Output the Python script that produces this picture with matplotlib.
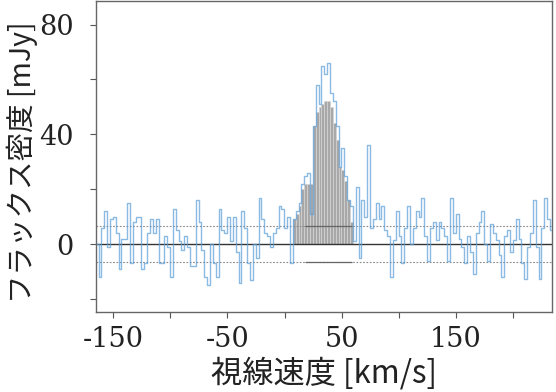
import numpy as np
import matplotlib
matplotlib.use("Agg")
import matplotlib.pyplot as plt

# ---- data ----
v_start = -164.0      # km/s, first channel centre
dv = 2.5              # km/s, channel width
left_flux = [0, -12, 6, 12, -1, 9, 10, 4, -9, 2, 2, 15, -7, 8, 10, 10, -9, -7, 4, 9,
             4, 9, -7, -7, 3, -1, -12, 13, 5, 1, -2, 3, -1, -8, -8, 16, 8, -2, -12, -15,
             0, -7, -12, 13, 5, 4, 10, 1, 10, -3, -14, 12, 6, -7, -13, 0, -5, 17, 9, 4,
             3, -1, 4, 6, 14, 13, 6, 10]
peak_flux = [-7, 9, 12, 15, 22, 25, 26, 11, 43, 58, 51, 65, 62, 66, 55, 52, 43, 28, 35,
             25, 16, 14]
right_flux = [1, 21, -5, 16, 10, 36, 6, 9, 15, 9, 14, 5, 3, -12, 1.5, 12, 3, -7, 6, 14,
              0, 6, 12, 10, 17, 3, -6, 6, 8, 1.5, 8, 6, 3, -6, 17, 4, 11, 2, -1, -7,
              3, -3, -11, 4, 8, 12, 0, -6, 7.5, 4, 1.5, -4, -12, 3, 5, -3, 1.5, 9, 2, -7,
              -12.5, -1, 4, 16, -1, -12.5, 6, 17, 9, 5]
flux = np.array(left_flux + peak_flux + right_flux, dtype=float)
velocity = v_start + dv * np.arange(len(flux))

# integrated (shaded) channels
fill_velocity = [8.5, 11, 13.5, 16, 18.5, 21, 23.5, 26, 28.5, 31, 33.5, 36, 38.5, 41,
                 43.5, 46, 48.5, 51, 53.5, 56, 58.5]
fill_flux = [9, 11, 14, 20, 22, 22, 22, 43, 48, 50, 51, 52, 52, 50, 44, 38, 28, 27, 23,
             16, 8]

rms = 6.5
rms_segment = [18, 59]

xticks = [-150, -100, -50, 0, 50, 100, 150, 200]
xticklabels = ["-150", "", "-50", "", "50", "", "150", ""]
yticks = [-20, 0, 20, 40, 60, 80]
yticklabels = ["", "0", "", "40", "", "80"]

xlabel = "視線速度 [km/s]"
ylabel = "フラックス密度 [mJy]"

# ---- plot ----
fig = plt.figure(figsize=(5.56, 3.92), dpi=100)
ax = fig.add_axes([0.1727, 0.204, 0.8201, 0.793])

ax.bar(fill_velocity, fill_flux, width=dv, color="#a8a8a8", edgecolor="#d4d4d4",
       linewidth=0.5, zorder=1)
ax.step(velocity, flux, where="mid", color="#5a9ed6", lw=1.0, alpha=0.7, zorder=3)

ax.axhline(0, color="#333333", lw=1.0, zorder=2)
ax.axhline(rms, color="#888888", lw=0.8, ls=(0, (1.5, 1.5)), zorder=2)
ax.axhline(-rms, color="#888888", lw=0.8, ls=(0, (1.5, 1.5)), zorder=2)
ax.hlines([rms, -rms], rms_segment[0], rms_segment[1], color="#666666", lw=0.9, zorder=2)

ax.set_xlim(-165, 234)
ax.set_ylim(-24.7, 88.5)
ax.set_xticks(xticks)
ax.set_xticklabels(xticklabels)
ax.set_yticks(yticks)
ax.set_yticklabels(yticklabels)

serif = ["DejaVu Serif"]
for lab in ax.get_xticklabels() + ax.get_yticklabels():
    lab.set_family(serif)
    lab.set_fontsize(19.5)
    lab.set_color("#222222")
ax.tick_params(direction="out", length=4, width=0.8, color="#555555")
ax.tick_params(axis="x", pad=6)
ax.tick_params(axis="y", pad=12)

for s in ax.spines.values():
    s.set_color("#666666")
    s.set_linewidth(1.0)

cjk = ["Noto Sans CJK JP", "DejaVu Sans"]
ax.set_xlabel(xlabel, family=cjk, fontsize=22.5, color="#222222")
ax.set_ylabel(ylabel, family=cjk, fontsize=20.5, color="#222222")
ax.xaxis.set_label_coords(0.5, -0.145)
ax.yaxis.set_label_coords(-0.127, 0.482)

fig.savefig("out.png", dpi=100)
